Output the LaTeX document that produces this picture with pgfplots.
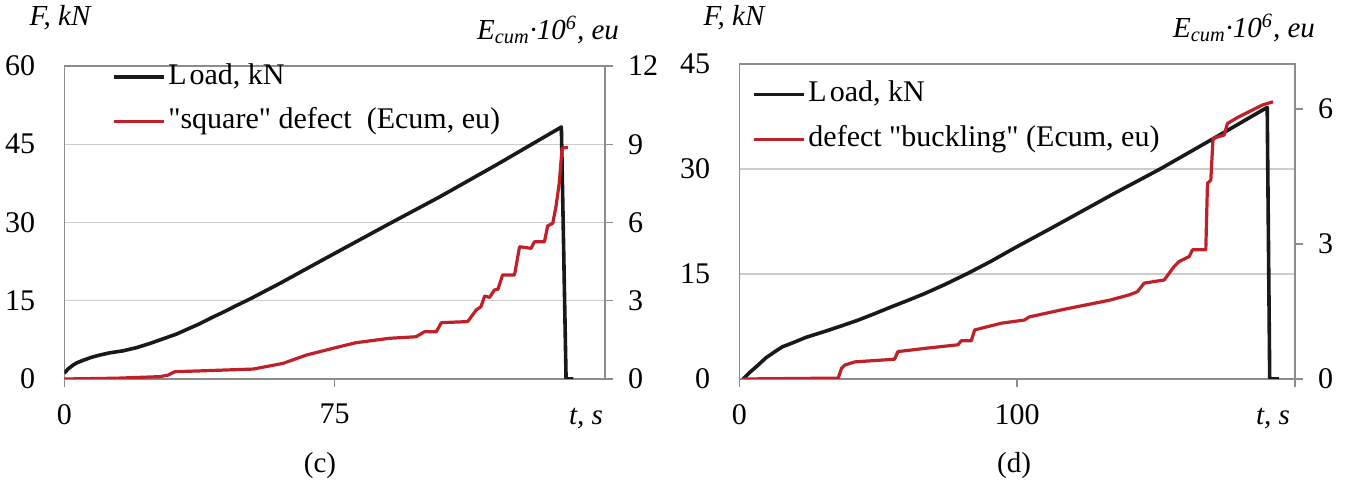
\documentclass[border=0pt]{standalone}
\usepackage{pgfplots}
\pgfplotsset{compat=1.18}
\usepackage{fontspec}
\setmainfont{Liberation Serif}
\definecolor{loadc}{RGB}{25,25,25}
\definecolor{redc}{RGB}{192,32,40}
\definecolor{axc}{RGB}{140,140,140}
\definecolor{gridc}{RGB}{205,205,205}

\pgfplotstableread{
t F
0 1.1
1 1.9
2.5 2.7
3.5 3.1
5.3 3.6
7.5 4.15
9.9 4.6
12.5 5.0
16.3 5.4
20 6.0
23.7 6.8
27 7.6
31.1 8.6
34 9.5
37.6 10.6
41 11.8
44.1 12.8
47.5 14.0
51.4 15.3
55 16.6
60 18.4
65 20.3
70 22.2
76.4 24.6
90 29.7
104.1 34.9
120 41.1
137.9 48.3
139.2 0
141.2 0
}\loadc

\pgfplotstableread{
t E
0 0
14.5 0.03
26.5 0.09
28.8 0.15
30.7 0.28
37.6 0.31
48 0.36
52.4 0.38
60.7 0.6
67.2 0.92
76.4 1.24
80.9 1.39
90.2 1.56
97.6 1.62
99.9 1.81
103.2 1.81
104.6 2.16
111.9 2.2
114.3 2.65
115.6 2.77
116.6 3.18
118 3.13
119.3 3.41
120.3 3.44
121.6 3.99
124.9 3.99
126.3 5.07
129.5 5.01
130.4 5.26
133.2 5.26
134.1 5.87
135.5 5.97
136.4 6.61
137.3 7.5
138.1 8.85
139.7 8.88
}\redc

\pgfplotstableread{
t F
1.4 0
3.5 0.85
6.8 2.0
9.5 3.0
12.8 3.9
15.5 4.6
18.8 5.1
24 5.95
30.8 6.8
36.5 7.55
42.7 8.4
48.5 9.3
54.7 10.3
60.5 11.2
66.7 12.2
74 13.5
82.3 15.1
90.5 16.8
99 18.7
111.6 21.4
134.9 26.5
151 29.9
170 34.2
190 38.8
190.9 0
194.2 0
}\loadd

\pgfplotstableread{
t E
1.4 0
35.6 0.02
36.8 0.24
38 0.31
41.6 0.38
55.9 0.44
57.1 0.61
60.1 0.63
66.7 0.68
78.7 0.76
79.9 0.85
83.5 0.85
84.7 1.09
94.3 1.24
102.6 1.31
104.4 1.38
117 1.55
133.2 1.75
140.4 1.87
143.3 1.94
145.7 2.13
152.9 2.2
154.7 2.35
156.5 2.5
158.3 2.61
161.9 2.72
163.1 2.87
167.9 2.87
168.5 4.35
169.7 4.42
170.5 5.35
174.5 5.42
175.7 5.68
179.9 5.83
183.5 5.94
188.3 6.09
192.1 6.16
}\redd

\pgfplotsset{
  base/.style={
    scale only axis,
    anchor=south west,
    /pgf/number format/assume math mode=true,
    tick label style={font=\fontsize{15}{18}\selectfont},
    axis line style={axc, line width=0.7pt},
    tick style={axc, line width=0.7pt},
    major tick length=4pt,
    tick align=outside,
  },
  prim/.style={
    base,
    xtick pos=bottom,
    ytick pos=left,
    ytick style={draw=none},
    ymajorgrids,
    grid style={gridc, line width=0.7pt},
    yticklabel style={anchor=east, xshift=-7pt},
    xticklabel style={yshift=-5pt},
  },
  sec/.style={
    base,
    axis x line=none,
    axis y line*=right,
    yticklabel style={anchor=west, xshift=4pt},
    legend cell align=left,
    legend image code/.code={\draw[##1] (0pt,0pt) -- (25pt,0pt);},
    legend style={draw=none, fill=none, inner sep=0pt, row sep=6pt,
      font=\fontsize{15}{18}\selectfont,
      nodes={text height=10.5pt, text depth=3.5pt, inner sep=1.2pt}},
  },
}

\begin{document}
\begin{tikzpicture}[font=\fontsize{14.5}{17}\selectfont]
\path[use as bounding box] (0pt,0pt) rectangle (672.5pt,242.5pt);

% ---------- panel (c) ----------
\begin{axis}[prim, at={(32.15pt,53pt)}, width=270.35pt, height=156.5pt,
  xmin=0, xmax=150, ymin=0, ymax=60, xtick={0,75}, ytick={0,15,30,45,60}]
  \addplot[loadc, line width=1.8pt, line join=round] table[x=t, y=F] {\loadc};
\end{axis}
\begin{axis}[sec, at={(32.15pt,53pt)}, width=270.35pt, height=156.5pt,
  xmin=0, xmax=150, ymin=0, ymax=12, ytick={0,3,6,9,12},
  legend style={at={(0.088,0.893)}, anchor=west}]
  \addlegendimage{loadc, line width=1.8pt}
  \addlegendentry{L\kern1.5pt oad, kN}
  \addplot[redc, line width=1.6pt, line join=round] table[x=t, y=E] {\redc};
  \addlegendentry{\textquotedbl square\textquotedbl{} defect\ \ (Ecum, eu)}
\end{axis}

% ---------- panel (d) ----------
\begin{axis}[prim, at={(369.65pt,53pt)}, width=277.85pt, height=157.5pt,
  xmin=0, xmax=200, ymin=0, ymax=45, xtick={0,100,200}, xticklabels={0,100,},
  ytick={0,15,30,45}]
  \addplot[loadc, line width=1.8pt, line join=round] table[x=t, y=F] {\loadd};
\end{axis}
\begin{axis}[sec, at={(369.65pt,53pt)}, width=277.85pt, height=157.5pt,
  xmin=0, xmax=200, ymin=0, ymax=7, ytick={0,3,6},
  legend style={at={(0.023,0.832)}, anchor=west}]
  \addlegendimage{loadc, line width=1.8pt}
  \addlegendentry{L\kern1.5pt oad, kN}
  \addplot[redc, line width=1.6pt, line join=round] table[x=t, y=E] {\redd};
  \addlegendentry{defect \textquotedbl buckling\textquotedbl{} (Ecum, eu)}
\end{axis}

% ---------- labels ----------
\node at (30pt,233.5pt) {\itshape F, kN};
\node[anchor=east] at (313pt,227.5pt) {\itshape E\textsubscript{cum}·10\textsuperscript{6}, eu};
\node at (367pt,233.5pt) {\itshape F, kN};
\node[anchor=east] at (661pt,228.5pt) {\itshape E\textsubscript{cum}·10\textsuperscript{6}, eu};
\node[anchor=east] at (305pt,33pt) {\itshape t, s};
\node[anchor=east] at (648.5pt,33pt) {\itshape t, s};
\node at (160pt,9.5pt) {(c)};
\node at (507pt,9.5pt) {(d)};
\end{tikzpicture}
\end{document}
